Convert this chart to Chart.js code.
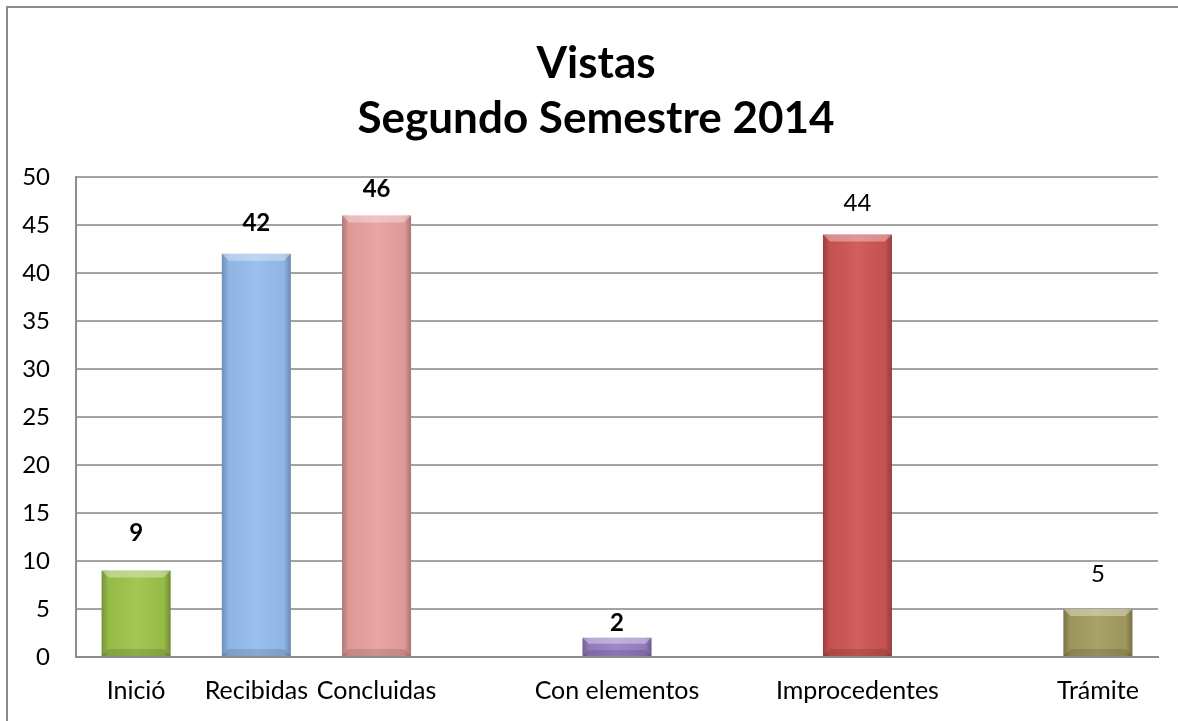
<!DOCTYPE html>
<html>
<head>
<meta charset="utf-8">
<script src="https://cdn.jsdelivr.net/npm/chart.js@4.4.1/dist/chart.umd.min.js"></script>
<style>
    html, body { margin: 0; padding: 0; background: #fff; }
    #wrap { width: 1178px; height: 721px; }
</style>
</head>
<body>
<div id="wrap"><canvas id="chart"></canvas></div>
<script>
// Chart data
const categories = ['Inició', 'Recibidas', 'Concluidas', '', 'Con elementos', '', 'Improcedentes', '', 'Trámite'];
const vistas = [9, 42, 46, null, 2, null, 44, null, 5];
const yTicks = [0, 5, 10, 15, 20, 25, 30, 35, 40, 45, 50];

// Styling per bar
const barColors = ['#9dc24a', '#95bdee', '#e8a09e', '#999', '#9a80c6', '#999', '#cd5553', '#999', '#a49c60'];
const labelLift = [37, 31, 26, 0, 15, 0, 31, 0, 35];
const labelBold = [true, true, true, false, true, false, false, false, false];

const FONT = 'Lato, Carlito, Calibri, sans-serif';

// white background + outer frame (left and top edges only show)
const framePlugin = {
    id: 'frame',
    beforeDraw(chart) {
        const ctx = chart.ctx;
        ctx.save();
        ctx.fillStyle = '#fff';
        ctx.fillRect(0, 0, chart.width, chart.height);
        ctx.strokeStyle = '#8c8c8c';
        ctx.lineWidth = 2;
        ctx.strokeRect(7, 7, chart.width + 40, chart.height + 40);
        ctx.restore();
    }
};

// bevel shading over each bar, then value labels
const bevelPlugin = {
    id: 'bevel',
    afterDatasetsDraw(chart) {
        const ctx = chart.ctx;
        const meta = chart.getDatasetMeta(0);
        meta.data.forEach((bar, i) => {
            if (vistas[i] === null) return;
            const left = bar.x - bar.width / 2;
            const right = bar.x + bar.width / 2;
            const top = bar.y;
            const bottom = bar.base;
            const h = bottom - top;
            const b = Math.min(7, h / 3);
            ctx.save();
            // side shading
            const g = ctx.createLinearGradient(left, 0, right, 0);
            g.addColorStop(0, 'rgba(0,0,0,0.25)');
            g.addColorStop(0.1, 'rgba(0,0,0,0.04)');
            g.addColorStop(0.5, 'rgba(255,255,255,0.06)');
            g.addColorStop(0.9, 'rgba(0,0,0,0.04)');
            g.addColorStop(1, 'rgba(0,0,0,0.28)');
            ctx.fillStyle = g;
            ctx.fillRect(left, top, right - left, h);
            // top bevel
            ctx.beginPath();
            ctx.moveTo(left, top);
            ctx.lineTo(right, top);
            ctx.lineTo(right - b, top + b);
            ctx.lineTo(left + b, top + b);
            ctx.closePath();
            ctx.fillStyle = 'rgba(255,255,255,0.35)';
            ctx.fill();
            // bottom bevel
            ctx.beginPath();
            ctx.moveTo(left, bottom);
            ctx.lineTo(right, bottom);
            ctx.lineTo(right - b, bottom - b);
            ctx.lineTo(left + b, bottom - b);
            ctx.closePath();
            ctx.fillStyle = 'rgba(0,0,0,0.12)';
            ctx.fill();
            ctx.restore();

            // value label
            ctx.save();
            ctx.fillStyle = '#000';
            ctx.textAlign = 'center';
            ctx.textBaseline = 'middle';
            ctx.font = (labelBold[i] ? 'bold ' : '') + '24px ' + FONT;
            ctx.fillText(String(vistas[i]), bar.x, top - labelLift[i]);
            ctx.restore();
        });
    }
};

new Chart(document.getElementById('chart'), {
    type: 'bar',
    data: {
        labels: categories,
        datasets: [{
            label: 'Vistas',
            data: vistas,
            backgroundColor: barColors,
            borderWidth: 0,
            barPercentage: 0.574,
            categoryPercentage: 1
        }]
    },
    options: {
        responsive: true,
        maintainAspectRatio: false,
        animation: false,
        layout: {
            padding: { left: 14, right: 0, top: 0, bottom: 0 }
        },
        plugins: {
            legend: { display: false },
            tooltip: { enabled: false },
            title: {
                display: true,
                text: ['Vistas', 'Segundo Semestre 2014'],
                color: '#000',
                font: { family: FONT, size: 44, weight: 'bold', lineHeight: 1.25 },
                padding: { top: 36, bottom: 31 }
            }
        },
        scales: {
            x: {
                afterFit(scale) { scale.height = 64; },
                grid: { display: false, drawTicks: false },
                border: { display: true, color: '#8c8c8c', width: 2 },
                ticks: {
                    color: '#000',
                    padding: 19,
                    maxRotation: 0,
                    autoSkip: false,
                    font: { family: FONT, size: 25 }
                }
            },
            y: {
                min: 0,
                max: 50,
                afterFit(scale) { scale.width = 62; },
                afterBuildTicks(scale) { scale.ticks = yTicks.map(v => ({ value: v })); },
                grid: { color: '#a3a3a3', lineWidth: 2, drawTicks: false },
                border: { display: true, color: '#8c8c8c', width: 2 },
                ticks: {
                    color: '#000',
                    padding: 26,
                    font: { family: FONT, size: 24 }
                }
            },
            // empty right-hand spacer so the plot stops short of the edge
            spacer: {
                type: 'linear',
                position: 'right',
                afterFit(scale) { scale.width = 20; },
                grid: { display: false, drawTicks: false },
                border: { display: false },
                ticks: { display: false }
            }
        }
    },
    plugins: [framePlugin, bevelPlugin]
});
</script>
</body>
</html>
